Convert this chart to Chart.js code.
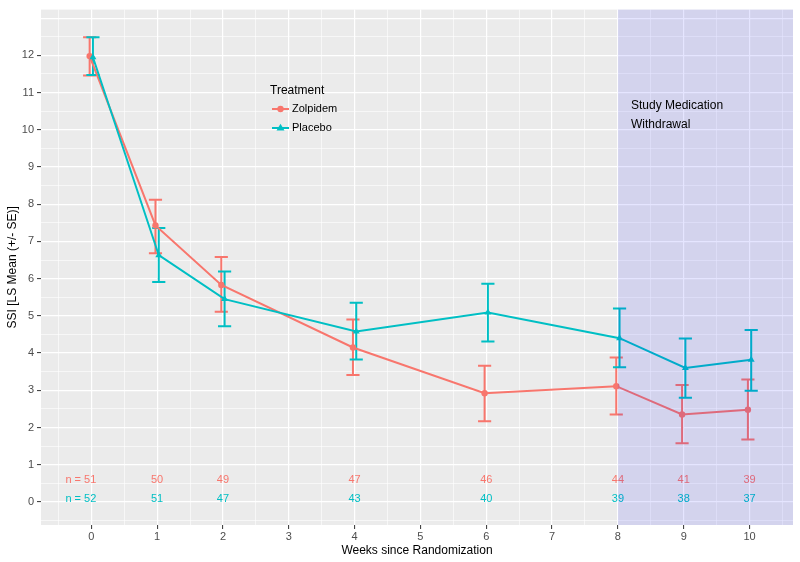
<!DOCTYPE html>
<html>
<head>
<meta charset="utf-8">
<script src="https://cdn.jsdelivr.net/npm/chart.js@4.4.1/dist/chart.umd.min.js"></script>
<style>
  html, body { margin: 0; padding: 0; background: #ffffff; }
</style>
</head>
<body>
<canvas id="graficoSSI" width="800" height="562"></canvas>
<script>
// Dados
const semanas = [0, 1, 2, 4, 6, 8, 9, 10];

const zolpidemMedia = [11.98, 7.43, 5.83, 4.15, 2.92, 3.11, 2.35, 2.48];
const zolpidemInf   = [11.46, 6.68, 5.11, 3.41, 2.17, 2.35, 1.58, 1.68];
const zolpidemSup   = [12.49, 8.12, 6.58, 4.90, 3.66, 3.88, 3.14, 3.29];
const zolpidemN     = ["n = 51", "50", "49", "47", "46", "44", "41", "39"];

const placeboMedia = [11.95, 6.63, 5.45, 4.58, 5.09, 4.40, 3.60, 3.82];
const placeboInf   = [11.47, 5.91, 4.72, 3.83, 4.31, 3.62, 2.80, 2.99];
const placeboSup   = [12.49, 7.36, 6.19, 5.35, 5.86, 5.20, 4.39, 4.62];
const placeboN     = ["n = 52", "51", "47", "43", "40", "39", "38", "37"];

const tratamentos = ["Zolpidem", "Placebo"];
const inicioRetirada = 8;

const VERMELHO = "#F8766D";
const CIANO = "#00BFC4";
const FONTE = "'Liberation Sans', Arial, sans-serif";
const DESLOC = 0.025; // pequeno dodge entre os grupos

function pontos(medias, sinal) {
  return semanas.map((s, i) => ({ x: s + sinal * DESLOC, y: medias[i] }));
}

// Fundo cinza do painel
const pluginFundo = {
  id: "fundo",
  beforeDraw(chart) {
    const { ctx, chartArea: a } = chart;
    ctx.save();
    ctx.fillStyle = "#EBEBEB";
    ctx.fillRect(a.left, a.top, a.right - a.left, a.bottom - a.top);
    ctx.restore();
  },
};

// Barras de erro (+/- SE)
const pluginErros = {
  id: "erros",
  beforeDatasetsDraw(chart) {
    const { ctx, scales: { x, y } } = chart;
    chart.data.datasets.forEach((ds) => {
      ctx.save();
      ctx.strokeStyle = ds.borderColor;
      ctx.lineWidth = 2;
      ds.data.forEach((p, i) => {
        const px = x.getPixelForValue(p.x);
        const meia = x.getPixelForValue(p.x + 0.1) - px;
        const yS = y.getPixelForValue(ds.sup[i]);
        const yI = y.getPixelForValue(ds.inf[i]);
        ctx.beginPath();
        ctx.moveTo(px, yS); ctx.lineTo(px, yI);
        ctx.moveTo(px - meia, yS); ctx.lineTo(px + meia, yS);
        ctx.moveTo(px - meia, yI); ctx.lineTo(px + meia, yI);
        ctx.stroke();
      });
      ctx.restore();
    });
  },
};

// Textos de n, área sombreada da retirada
const pluginAnotacoes = {
  id: "anotacoes",
  afterDatasetsDraw(chart) {
    const { ctx, chartArea: a, scales: { x, y } } = chart;
    ctx.save();
    ctx.font = "11px " + FONTE;
    ctx.textBaseline = "middle";
    const linhas = [
      { textos: zolpidemN, cor: VERMELHO, nivel: 0.58 },
      { textos: placeboN, cor: CIANO, nivel: 0.09 },
    ];
    linhas.forEach((l) => {
      ctx.fillStyle = l.cor;
      l.textos.forEach((t, i) => {
        const px = x.getPixelForValue(semanas[i]);
        if (i === 0) {
          ctx.textAlign = "right";
          ctx.fillText(t, px + 5, y.getPixelForValue(l.nivel));
        } else {
          ctx.textAlign = "center";
          ctx.fillText(t, px, y.getPixelForValue(l.nivel));
        }
      });
    });

    // retângulo azul translúcido
    const x0 = x.getPixelForValue(inicioRetirada);
    ctx.fillStyle = "rgba(0, 0, 255, 0.1)";
    ctx.fillRect(x0, a.top, a.right - x0, a.bottom - a.top);
    ctx.restore();
  },
  afterDraw(chart) {
    const { ctx } = chart;
    ctx.save();
    ctx.fillStyle = "#000000";
    ctx.textBaseline = "middle";
    ctx.textAlign = "left";
    ctx.font = "12px " + FONTE;
    ctx.fillText("Study Medication", 631, 105.5);
    ctx.fillText("Withdrawal", 631, 124.5);

    // legenda
    ctx.fillText("Treatment", 270, 91);
    ctx.font = "11px " + FONTE;
    const cores = [VERMELHO, CIANO];
    tratamentos.forEach((nome, i) => {
      const yy = 109 + i * 19;
      ctx.strokeStyle = cores[i];
      ctx.fillStyle = cores[i];
      ctx.lineWidth = 2;
      ctx.beginPath();
      ctx.moveTo(272, yy); ctx.lineTo(289, yy);
      ctx.stroke();
      if (i === 0) {
        ctx.beginPath();
        ctx.arc(280.5, yy, 3.2, 0, Math.PI * 2);
        ctx.fill();
      } else {
        ctx.beginPath();
        ctx.moveTo(280.5, yy - 4.2);
        ctx.lineTo(284.5, yy + 2.6);
        ctx.lineTo(276.5, yy + 2.6);
        ctx.closePath();
        ctx.fill();
      }
      ctx.fillStyle = "#000000";
      ctx.fillText(nome, 292, yy);
    });
    ctx.restore();
  },
};

function rotulado(v, max) {
  return Number.isInteger(v) && v >= 0 && v <= max;
}

function eixoGrade(max) {
  return {
    color: "#FFFFFF",
    lineWidth: (c) => (c.tick && Number.isInteger(c.tick.value) ? 1.2 : 0.6),
    tickColor: (c) => (c.tick && rotulado(c.tick.value, max) ? "#333333" : "rgba(0,0,0,0)"),
    tickLength: 4,
    tickWidth: 1,
  };
}

const config = {
  type: "line",
  data: {
    datasets: [
      {
        label: tratamentos[0],
        data: pontos(zolpidemMedia, -1),
        inf: zolpidemInf,
        sup: zolpidemSup,
        borderColor: VERMELHO,
        backgroundColor: VERMELHO,
        borderWidth: 2,
        pointRadius: 3.2,
        pointStyle: "circle",
        pointBorderWidth: 0,
        tension: 0,
        order: 1,
      },
      {
        label: tratamentos[1],
        data: pontos(placeboMedia, 1),
        inf: placeboInf,
        sup: placeboSup,
        borderColor: CIANO,
        backgroundColor: CIANO,
        borderWidth: 2,
        pointRadius: 4,
        pointStyle: "triangle",
        pointBorderWidth: 0,
        tension: 0,
        order: 0,
      },
    ],
  },
  options: {
    responsive: false,
    animation: false,
    layout: { padding: { top: 7, right: 7, left: 0, bottom: 0 } },
    plugins: {
      legend: { display: false },
      tooltip: { enabled: false },
    },
    scales: {
      x: {
        type: "linear",
        min: -0.764,
        max: 10.66,
        border: { display: false },
        grid: eixoGrade(10),
        ticks: {
          stepSize: 0.5,
          includeBounds: false,
          autoSkip: false,
          maxRotation: 0,
          padding: 1,
          color: "#4D4D4D",
          font: { family: FONTE, size: 11 },
          callback: (v) => (rotulado(v, 10) ? v : ""),
        },
        title: {
          display: true,
          text: "Weeks since Randomization",
          color: "#000000",
          font: { family: FONTE, size: 12 },
          padding: { top: 0, bottom: 4 },
        },
        afterFit: (s) => { s.height = 37; },
      },
      y: {
        type: "linear",
        min: -0.62,
        max: 13.23,
        border: { display: false },
        grid: eixoGrade(12),
        ticks: {
          stepSize: 0.5,
          includeBounds: false,
          autoSkip: false,
          padding: 3,
          color: "#4D4D4D",
          font: { family: FONTE, size: 11 },
          callback: (v) => (rotulado(v, 12) ? v : ""),
        },
        title: {
          display: true,
          text: "SSI [LS Mean (+/- SE)]",
          color: "#000000",
          font: { family: FONTE, size: 12 },
          padding: { top: 5, bottom: 0 },
        },
        afterFit: (s) => { s.width = 41; },
      },
    },
  },
  plugins: [pluginFundo, pluginErros, pluginAnotacoes],
};

const ctx = document.getElementById("graficoSSI").getContext("2d");
const graficoSSI = new Chart(ctx, config);
</script>
</body>
</html>
